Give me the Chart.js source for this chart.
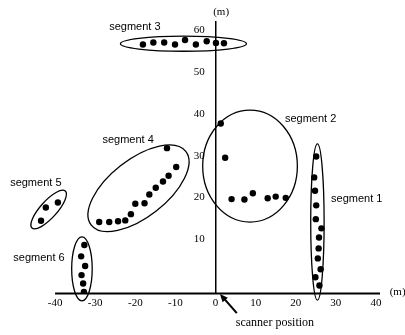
<!DOCTYPE html>
<html>
<head>
<meta charset="utf-8">
<script src="https://cdn.jsdelivr.net/npm/chart.js@4"></script>
<style>
  html, body { margin: 0; padding: 0; background: #fff; }
  #wrap { width: 405px; height: 335px; }
</style>
</head>
<body>
<div id="wrap"><canvas id="scanChart"></canvas></div>
<script>
// scan points in metres, one pair of arrays per segment
const seg1X = [25.1, 24.6, 24.8, 25.1, 25.0, 26.4, 25.8, 25.7, 25.5, 26.2, 24.9, 25.9];
const seg1Y = [29.8, 24.8, 21.6, 18.1, 14.8, 12.6, 10.4, 7.8, 5.4, 2.8, 0.9, -1.1];
const seg2X = [1.3, 2.4, 4.0, 7.2, 9.3, 13.0, 15.0, 17.5];
const seg2Y = [37.7, 29.5, 19.6, 19.5, 21.0, 19.8, 20.2, 19.9];
const seg3X = [-18.1, -15.5, -12.8, -10.1, -7.6, -4.9, -2.2, 0.1, 2.1];
const seg3Y = [56.6, 57.1, 57.1, 56.6, 57.7, 56.6, 57.4, 57.0, 56.9];
const seg4X = [-12.1, -9.8, -11.7, -13.1, -14.9, -16.5, -17.7, -20.0, -21.1, -22.5, -24.3, -26.5, -29.0];
const seg4Y = [31.8, 27.3, 25.2, 23.8, 22.3, 20.7, 18.6, 18.5, 16.0, 14.5, 14.3, 14.1, 14.1];
const seg5X = [-42.3, -39.3, -43.5];
const seg5Y = [17.6, 18.8, 14.4];
const seg6X = [-32.7, -33.5, -32.5, -33.4, -33.0, -32.8];
const seg6Y = [8.6, 5.9, 3.6, 1.4, -0.6, -2.6];

const segNames = ['segment 1', 'segment 2', 'segment 3', 'segment 4', 'segment 5', 'segment 6'];
const xTicks = [-40, -30, -20, -10, 0, 10, 20, 30, 40];
const yTicks = [10, 20, 30, 40, 50, 60];

// ellipse round each segment and where its name goes (axis units)
const ringCX = [25.4, 8.6, -8.0, -19.2, -41.6, -33.3];
const ringCY = [14.1, 27.5, 56.8, 22.2, 17.1, 2.9];
const ringRX = [1.67, 11.8, 15.7, 14.95, 6.2, 2.56];
const ringRY = [18.7, 13.4, 1.8, 6.9, 2.0, 7.66];
const ringTilt = [0, 0, 0, 38, 48, 0];
const nameX = [35.2, 23.7, -20.1, -21.8, -44.8, -44.0];
const nameY = [19.6, 38.8, 60.8, 33.7, 23.5, 5.4];

const SERIF = "'Liberation Serif', 'Times New Roman', serif";
const SANS = "'Liberation Sans', Arial, sans-serif";

const xs = [seg1X, seg2X, seg3X, seg4X, seg5X, seg6X];
const ys = [seg1Y, seg2Y, seg3Y, seg4Y, seg5Y, seg6Y];
const datasets = segNames.map((name, i) => ({
  label: name,
  data: xs[i].map((v, j) => ({ x: v, y: ys[i][j] })),
  backgroundColor: '#000',
  borderWidth: 0,
  pointRadius: 3.2
}));

const overlay = {
  id: 'overlay',
  afterDatasetsDraw(chart) {
    const { ctx, scales: { x, y } } = chart;
    const kx = Math.abs(x.getPixelForValue(1) - x.getPixelForValue(0));
    const ky = Math.abs(y.getPixelForValue(0) - y.getPixelForValue(1));
    ctx.save();

    // x axis line starts at the first tick, not at the left edge of the plot
    ctx.strokeStyle = '#000';
    ctx.lineWidth = 1.8;
    ctx.beginPath();
    ctx.moveTo(x.getPixelForValue(xTicks[0]), y.getPixelForValue(y.min));
    ctx.lineTo(x.getPixelForValue(x.max), y.getPixelForValue(y.min));
    ctx.stroke();

    ctx.lineWidth = 1.3;
    for (let i = 0; i < ringCX.length; i++) {
      ctx.beginPath();
      ctx.ellipse(x.getPixelForValue(ringCX[i]), y.getPixelForValue(ringCY[i]),
        ringRX[i] * kx, ringRY[i] * ky, -ringTilt[i] * Math.PI / 180, 0, Math.PI * 2);
      ctx.stroke();
    }

    ctx.fillStyle = '#000';
    ctx.textAlign = 'center';
    ctx.textBaseline = 'middle';
    ctx.font = '11px ' + SANS;
    segNames.forEach((n, i) => ctx.fillText(n, x.getPixelForValue(nameX[i]), y.getPixelForValue(nameY[i])));

    ctx.font = '11px ' + SERIF;
    ctx.fillText('(m)', x.getPixelForValue(1.4), y.getPixelForValue(64.4));
    ctx.fillText('(m)', x.getPixelForValue(45.4), y.getPixelForValue(-2.6));
    ctx.font = '12px ' + SERIF;
    ctx.fillText('scanner position', x.getPixelForValue(14.8), y.getPixelForValue(-10.1));

    // arrow pointing at the origin
    const tx = x.getPixelForValue(1.1), ty = y.getPixelForValue(-3.1);
    const fx = x.getPixelForValue(5.3), fy = y.getPixelForValue(-7.7);
    const a = Math.atan2(ty - fy, tx - fx);
    ctx.lineWidth = 2;
    ctx.beginPath();
    ctx.moveTo(fx, fy);
    ctx.lineTo(tx - 5 * Math.cos(a), ty - 5 * Math.sin(a));
    ctx.stroke();
    ctx.beginPath();
    ctx.moveTo(tx, ty);
    ctx.lineTo(tx - 8 * Math.cos(a) + 3.5 * Math.sin(a), ty - 8 * Math.sin(a) - 3.5 * Math.cos(a));
    ctx.lineTo(tx - 8 * Math.cos(a) - 3.5 * Math.sin(a), ty - 8 * Math.sin(a) + 3.5 * Math.cos(a));
    ctx.closePath();
    ctx.fill();
    ctx.restore();
  }
};

new Chart(document.getElementById('scanChart'), {
  type: 'scatter',
  data: { datasets: datasets },
  options: {
    responsive: true,
    maintainAspectRatio: false,
    animation: false,
    events: [],
    layout: { padding: { left: 31, right: 25, top: 22, bottom: 41.5 } },
    plugins: { legend: { display: false }, tooltip: { enabled: false } },
    scales: {
      x: {
        type: 'linear',
        min: -46,
        max: 41,
        position: { y: -3 },
        grid: { display: false, drawTicks: false },
        border: { display: false },
        afterBuildTicks: s => { s.ticks = xTicks.map(v => ({ value: v })); },
        ticks: { padding: 3, color: '#000', maxRotation: 0, autoSkip: false, font: { family: SERIF, size: 11 } }
      },
      y: {
        type: 'linear',
        min: -3,
        max: 62,
        position: { x: 0 },
        grid: { display: false, drawTicks: false },
        border: { color: '#000', width: 1.5 },
        ticks: { display: false }
      },
      yLab: {
        type: 'linear',
        axis: 'y',
        min: -3,
        max: 62,
        position: { x: -2.7 },
        grid: { display: false, drawTicks: false },
        border: { display: false },
        afterBuildTicks: s => { s.ticks = yTicks.map(v => ({ value: v })); },
        ticks: { padding: 0, color: '#000', autoSkip: false, font: { family: SERIF, size: 11 } }
      }
    }
  },
  plugins: [overlay]
});
</script>
</body>
</html>
